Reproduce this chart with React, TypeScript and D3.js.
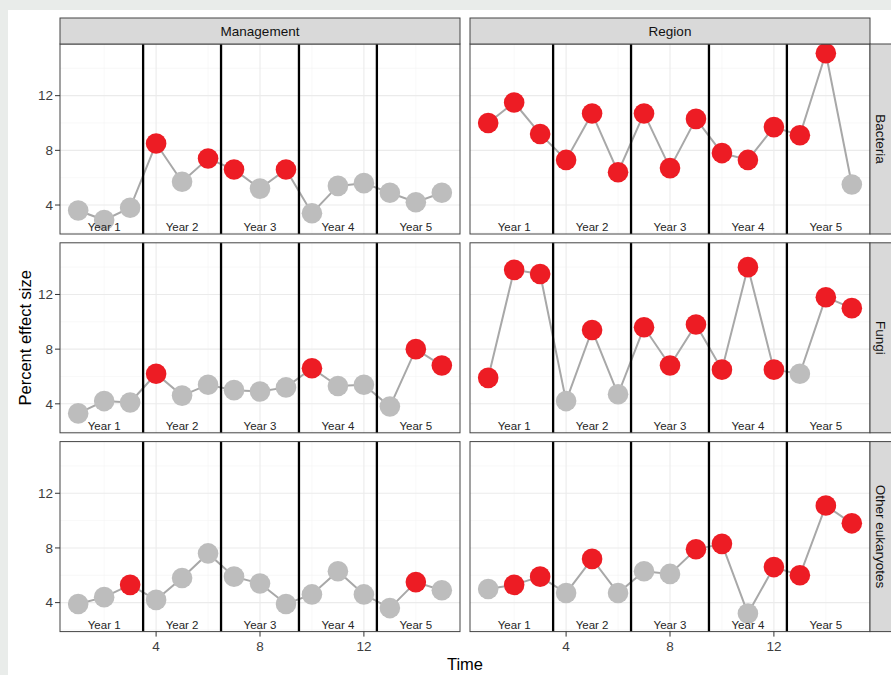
import React from "react";
import * as d3 from "d3";

// ---------- data ----------
const timePoints = [1, 2, 3, 4, 5, 6, 7, 8, 9, 10, 11, 12, 13, 14, 15];
const columnLabels = ["Management", "Region"];
const rowLabels = ["Bacteria", "Fungi", "Other eukaryotes"];
const yearLabels = ["Year 1", "Year 2", "Year 3", "Year 4", "Year 5"];
const yearCenters = [2, 5, 8, 11, 14];
const yearBreaks = [3.5, 6.5, 9.5, 12.5];
const xTicks = [4, 8, 12];
const xMinor = [2, 6, 10, 14];
const yTicks = [4, 8, 12];
const yMinor = [2, 6, 10, 14];

const managementBacteria = [3.6, 2.9, 3.8, 8.5, 5.7, 7.4, 6.6, 5.2, 6.6, 3.4, 5.4, 5.6, 4.9, 4.2, 4.9];
const managementBacteriaSig = [0, 0, 0, 1, 0, 1, 1, 0, 1, 0, 0, 0, 0, 0, 0];
const regionBacteria = [10.0, 11.5, 9.2, 7.3, 10.7, 6.4, 10.7, 6.7, 10.3, 7.8, 7.3, 9.7, 9.1, 15.1, 5.5];
const regionBacteriaSig = [1, 1, 1, 1, 1, 1, 1, 1, 1, 1, 1, 1, 1, 1, 0];
const managementFungi = [3.3, 4.2, 4.1, 6.2, 4.6, 5.4, 5.0, 4.9, 5.2, 6.6, 5.3, 5.4, 3.8, 8.0, 6.8];
const managementFungiSig = [0, 0, 0, 1, 0, 0, 0, 0, 0, 1, 0, 0, 0, 1, 1];
const regionFungi = [5.9, 13.8, 13.5, 4.2, 9.4, 4.7, 9.6, 6.8, 9.8, 6.5, 14.0, 6.5, 6.2, 11.8, 11.0];
const regionFungiSig = [1, 1, 1, 0, 1, 0, 1, 1, 1, 1, 1, 1, 0, 1, 1];
const managementOther = [3.9, 4.4, 5.3, 4.2, 5.8, 7.6, 5.9, 5.4, 3.9, 4.6, 6.3, 4.6, 3.6, 5.5, 4.9];
const managementOtherSig = [0, 0, 1, 0, 0, 0, 0, 0, 0, 0, 0, 0, 0, 1, 0];
const regionOther = [5.0, 5.3, 5.9, 4.7, 7.2, 4.7, 6.3, 6.1, 7.9, 8.3, 3.2, 6.6, 6.0, 11.1, 9.8];
const regionOtherSig = [0, 1, 1, 0, 1, 0, 0, 0, 1, 1, 0, 1, 1, 1, 1];

const panelValues = [
  [managementBacteria, regionBacteria],
  [managementFungi, regionFungi],
  [managementOther, regionOther],
];
const panelSig = [
  [managementBacteriaSig, regionBacteriaSig],
  [managementFungiSig, regionFungiSig],
  [managementOtherSig, regionOtherSig],
];

// ---------- layout ----------
const W = 891;
const H = 675;
const colLeft = [60, 470];
const panelW = 400;
const rowTop0 = 44;
const rowStep = 198.8;
const panelH = 190;
const FONT = "'Liberation Sans', Arial, Helvetica, sans-serif";
const RED = "#ed1c24";
const GREY_PT = "#bdbdbd";
const LINE = "#a8a8a8";
const BORDER = "#444444";

export default function App() {
  const x = d3.scaleLinear().domain([0.3, 15.7]).range([0, panelW]);
  const y = d3.scaleLinear().domain([1.88, 15.78]).range([panelH, 0]);
  const line = d3
    .line<number>()
    .x((_, i) => x(timePoints[i]))
    .y((d) => y(d));

  const panels: React.ReactNode[] = [];
  rowLabels.forEach((rl, r) => {
    columnLabels.forEach((cl, c) => {
      const vals = panelValues[r][c];
      const sig = panelSig[r][c];
      const tx = colLeft[c];
      const ty = rowTop0 + r * rowStep;
      panels.push(
        <g key={`${r}-${c}`} transform={`translate(${tx},${ty})`}>
          <rect x={0} y={0} width={panelW} height={panelH} fill="#ffffff" />
          {xMinor.map((t) => (
            <line key={`xm${t}`} x1={x(t)} x2={x(t)} y1={0} y2={panelH} stroke="#f3f3f3" strokeWidth={0.6} />
          ))}
          {yMinor.map((t) => (
            <line key={`ym${t}`} x1={0} x2={panelW} y1={y(t)} y2={y(t)} stroke="#f3f3f3" strokeWidth={0.6} />
          ))}
          {xTicks.map((t) => (
            <line key={`xg${t}`} x1={x(t)} x2={x(t)} y1={0} y2={panelH} stroke="#ebebeb" strokeWidth={1.1} />
          ))}
          {yTicks.map((t) => (
            <line key={`yg${t}`} x1={0} x2={panelW} y1={y(t)} y2={y(t)} stroke="#ebebeb" strokeWidth={1.1} />
          ))}
          <path d={line(vals) || ""} fill="none" stroke={LINE} strokeWidth={2} />
          {yearBreaks.map((b) => (
            <line key={`vb${b}`} x1={x(b)} x2={x(b)} y1={0} y2={panelH} stroke="#000000" strokeWidth={2.3} />
          ))}
          {vals.map((v, i) => (
            <circle key={`p${i}`} cx={x(timePoints[i])} cy={y(v)} r={10.3} fill={sig[i] ? RED : GREY_PT} />
          ))}
          {yearLabels.map((yl, i) => (
            <text
              key={yl}
              x={x(yearCenters[i])}
              y={panelH - 3}
              textAnchor="middle"
              fontFamily={FONT}
              fontSize={11.5}
              fill="#262626"
            >
              {yl}
            </text>
          ))}
          <rect x={0} y={0} width={panelW} height={panelH} fill="none" stroke={BORDER} strokeWidth={1} />
          {c === 0 &&
            yTicks.map((t) => (
              <g key={`yt${t}`}>
                <line x1={-5} x2={0} y1={y(t)} y2={y(t)} stroke="#333333" strokeWidth={1} />
                <text
                  x={-7}
                  y={y(t)}
                  dy="0.35em"
                  textAnchor="end"
                  fontFamily={FONT}
                  fontSize={13.5}
                  fill="#3d3d3d"
                >
                  {t}
                </text>
              </g>
            ))}
          {r === rowLabels.length - 1 &&
            xTicks.map((t) => (
              <g key={`xt${t}`}>
                <line x1={x(t)} x2={x(t)} y1={panelH} y2={panelH + 5} stroke="#333333" strokeWidth={1} />
                <text
                  x={x(t)}
                  y={panelH + 19.5}
                  textAnchor="middle"
                  fontFamily={FONT}
                  fontSize={13.5}
                  fill="#3d3d3d"
                >
                  {t}
                </text>
              </g>
            ))}
        </g>
      );
    });
  });

  const topStrips = columnLabels.map((cl, c) => (
    <g key={cl} transform={`translate(${colLeft[c]},18)`}>
      <rect x={0} y={0} width={panelW} height={26} fill="#d9d9d9" stroke={BORDER} strokeWidth={1} />
      <text
        x={panelW / 2}
        y={13}
        dy="0.35em"
        textAnchor="middle"
        fontFamily={FONT}
        fontSize={13.5}
        fill="#111111"
      >
        {cl}
      </text>
    </g>
  ));

  const rightStrips = rowLabels.map((rl, r) => {
    const ty = rowTop0 + r * rowStep;
    return (
      <g key={rl} transform={`translate(870,${ty})`}>
        <rect x={0} y={0} width={26} height={panelH} fill="#d9d9d9" stroke={BORDER} strokeWidth={1} />
        <text
          transform={`translate(11,${panelH / 2}) rotate(90)`}
          dy="0.35em"
          textAnchor="middle"
          fontFamily={FONT}
          fontSize={13.5}
          fill="#111111"
        >
          {rl}
        </text>
      </g>
    );
  });

  const plotMid = (rowTop0 + rowTop0 + 2 * rowStep + panelH) / 2;

  return (
    <svg
      width={W}
      height={H}
      style={{ position: "absolute", left: 0, top: 0, display: "block" }}
      xmlns="http://www.w3.org/2000/svg"
    >
      <rect x={0} y={0} width={W} height={H} fill="#ffffff" />
      <rect x={0} y={0} width={W} height={10} fill="#e9ecea" />
      <rect x={0} y={0} width={8} height={H} fill="#e9ecea" />
      {panels}
      {topStrips}
      {rightStrips}
      <text
        transform={`translate(25,${plotMid}) rotate(-90)`}
        dy="0.35em"
        textAnchor="middle"
        fontFamily={FONT}
        fontSize={16.5}
        fill="#000000"
      >
        Percent effect size
      </text>
      <text
        x={(colLeft[0] + colLeft[1] + panelW) / 2}
        y={670}
        textAnchor="middle"
        fontFamily={FONT}
        fontSize={16.5}
        fill="#000000"
      >
        Time
      </text>
    </svg>
  );
}
